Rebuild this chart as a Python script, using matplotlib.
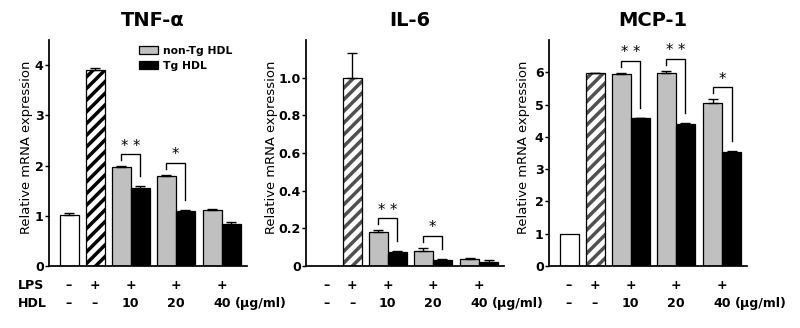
import matplotlib
matplotlib.use('Agg')
import matplotlib.pyplot as plt
from matplotlib.transforms import blended_transform_factory
import numpy as np

# ---------------- data ----------------
genes = ['TNF-α', 'IL-6', 'MCP-1']
ymax = [4.5, 1.2, 7.0]
yticks = [[0, 1, 2, 3, 4],
          [0, 0.2, 0.4, 0.6, 0.8, 1.0],
          [0, 1, 2, 3, 4, 5, 6]]
ytick_labels = [['0', '1', '2', '3', '4'],
                ['0', '0.2', '0.4', '0.6', '0.8', '1.0'],
                ['0', '1', '2', '3', '4', '5', '6']]

ctrl_vals = [1.02, 0.0, 1.00]
ctrl_errs = [0.03, 0.0, 0.0]
lps_vals = [3.90, 1.00, 5.97]
lps_errs = [0.05, 0.13, 0.02]

nontg_tnf = [1.97, 1.79, 1.12]
nontg_tnf_err = [0.02, 0.03, 0.02]
tg_tnf = [1.55, 1.09, 0.84]
tg_tnf_err = [0.04, 0.02, 0.04]

nontg_il6 = [0.18, 0.08, 0.038]
nontg_il6_err = [0.01, 0.016, 0.004]
tg_il6 = [0.075, 0.033, 0.022]
tg_il6_err = [0.004, 0.004, 0.01]

nontg_mcp = [5.95, 5.99, 5.06]
nontg_mcp_err = [0.03, 0.05, 0.10]
tg_mcp = [4.57, 4.40, 3.52]
tg_mcp_err = [0.02, 0.02, 0.05]

sig_tnf = ['**', '*', '']
sig_il6 = ['**', '*', '']
sig_mcp = ['**', '**', '*']

lps_marks = ['–', '+', '+', '+', '+']
hdl_marks = ['–', '–', '10', '20', '40']
hdl_unit = '(μg/ml)'
legend_labels = ['non-Tg HDL', 'Tg HDL']

nontg = [nontg_tnf, nontg_il6, nontg_mcp]
nontg_err = [nontg_tnf_err, nontg_il6_err, nontg_mcp_err]
tg = [tg_tnf, tg_il6, tg_mcp]
tg_err = [tg_tnf_err, tg_il6_err, tg_mcp_err]
sigs = [sig_tnf, sig_il6, sig_mcp]

# ---------------- layout (pixels) ----------------
DPI = 70
W, H = 800, 328
AX_TOP, AX_BOT = 40, 266
AX_LEFT = [49, 306, 549]
AX_W = 198
POS = [20, 46, 81.5, 126.5, 173]   # centres in pixel units from the left spine
BW = 19
GRAY = '#c0c0c0'
HATCH_COL = ['black', '#505050', '#505050']
YLAB_X = [27, 272, 523]

plt.rcParams['font.family'] = ['DejaVu Sans']
plt.rcParams['hatch.linewidth'] = 3.6

fig = plt.figure(figsize=(W / DPI, H / DPI), dpi=DPI)


def fy(px):
    return (H - px) / H


for i in range(3):
    ax = fig.add_axes([AX_LEFT[i] / W, fy(AX_BOT), AX_W / W, (AX_BOT - AX_TOP) / H])
    ax.set_xlim(0, AX_W)
    ax.set_ylim(0, ymax[i])
    ppu = (AX_BOT - AX_TOP) / ymax[i]  # pixels per unit

    def px2d(p):
        return p / ppu

    # control
    if ctrl_vals[i] > 0:
        ax.bar(POS[0], ctrl_vals[i], BW, color='white', edgecolor='black', linewidth=1.3, zorder=2)
    # LPS hatched
    ax.bar(POS[1], lps_vals[i], BW, color='white', edgecolor=HATCH_COL[i], hatch='//', linewidth=0, zorder=2)
    ax.bar(POS[1], lps_vals[i], BW, fill=False, edgecolor='black', linewidth=1.3, zorder=3)
    gx = np.array(POS[2:]) - BW / 2
    bx = np.array(POS[2:]) + BW / 2
    hg = ax.bar(gx, nontg[i], BW, color=GRAY, edgecolor='black', linewidth=1.3, zorder=2)
    hb = ax.bar(bx, tg[i], BW, color='black', edgecolor='black', linewidth=1.3, zorder=2)

    xs = [POS[0], POS[1]] + list(gx) + list(bx)
    vs = [ctrl_vals[i], lps_vals[i]] + list(nontg[i]) + list(tg[i])
    es = [ctrl_errs[i], lps_errs[i]] + list(nontg_err[i]) + list(tg_err[i])
    for x, v, e in zip(xs, vs, es):
        if e > 0:
            ax.errorbar(x, v, yerr=[[0], [e]], fmt='none', ecolor='black',
                        elinewidth=1.4, capsize=5, capthick=1.4, zorder=4)

    # significance brackets
    for j in range(3):
        s = sigs[i][j]
        if not s:
            continue
        gtop = nontg[i][j] + nontg_err[i][j]
        btop = tg[i][j] + tg_err[i][j]
        top = gtop + px2d(12)
        ax.plot([gx[j], gx[j], bx[j], bx[j]],
                [top - px2d(6), top, top, btop + px2d(10)],
                color='black', lw=1.4, solid_joinstyle='miter', zorder=4)
        ax.text((gx[j] + bx[j]) / 2, top + px2d(8), ' '.join(s), ha='center', va='center',
                fontsize=15)

    # axes style
    for sp in ['top', 'right']:
        ax.spines[sp].set_visible(False)
    for sp in ['left', 'bottom']:
        ax.spines[sp].set_linewidth(1.8)
    ax.set_yticks(yticks[i], labels=ytick_labels[i])
    ax.tick_params(axis='y', direction='out', length=4, width=1.5, labelsize=13, pad=1.5)
    ax.tick_params(axis='x', bottom=False, labelbottom=False)
    for lbl in ax.get_yticklabels():
        lbl.set_fontweight('bold')

    # title
    ax.text(0.5 + 5 / AX_W, fy(26.5), genes[i], transform=blended_transform_factory(ax.transAxes, fig.transFigure),
            ha='center', va='baseline', fontsize=20, fontweight='bold')
    # ylabel
    fig.text(YLAB_X[i] / W, fy(147), 'Relative mRNA expression', rotation=90,
             ha='center', va='center', fontsize=13.5)

    # treatment rows
    tr = blended_transform_factory(ax.transData, fig.transFigure)
    for k in range(5):
        ax.text(POS[k], fy(285.7), lps_marks[k], transform=tr, ha='center', va='center',
                fontsize=13, fontweight='bold')
        t = ax.text(POS[k], fy(303.3), hdl_marks[k], transform=tr, ha='center', va='center',
                    fontsize=13, fontweight='bold')
        if k == 4:
            ax.annotate(hdl_unit, xy=(1, 0), xycoords=t, xytext=(4, 0), textcoords='offset points',
                        ha='left', va='bottom', fontsize=13, fontweight='bold')

    if i == 0:
        ax.legend([hg, hb], legend_labels, loc='upper left',
                  bbox_to_anchor=(90 / AX_W, (AX_BOT - 46) / (AX_BOT - AX_TOP)),
                  frameon=False, prop={'weight': 'bold', 'size': 11},
                  handlelength=1.8, handleheight=0.8, handletextpad=0.4,
                  labelspacing=0.45, borderpad=0, borderaxespad=0)

fig.text(18 / W, fy(285.7), 'LPS', ha='left', va='center', fontsize=13, fontweight='bold')
fig.text(18 / W, fy(303.3), 'HDL', ha='left', va='center', fontsize=13, fontweight='bold')

fig.savefig('out.png', dpi=DPI)
